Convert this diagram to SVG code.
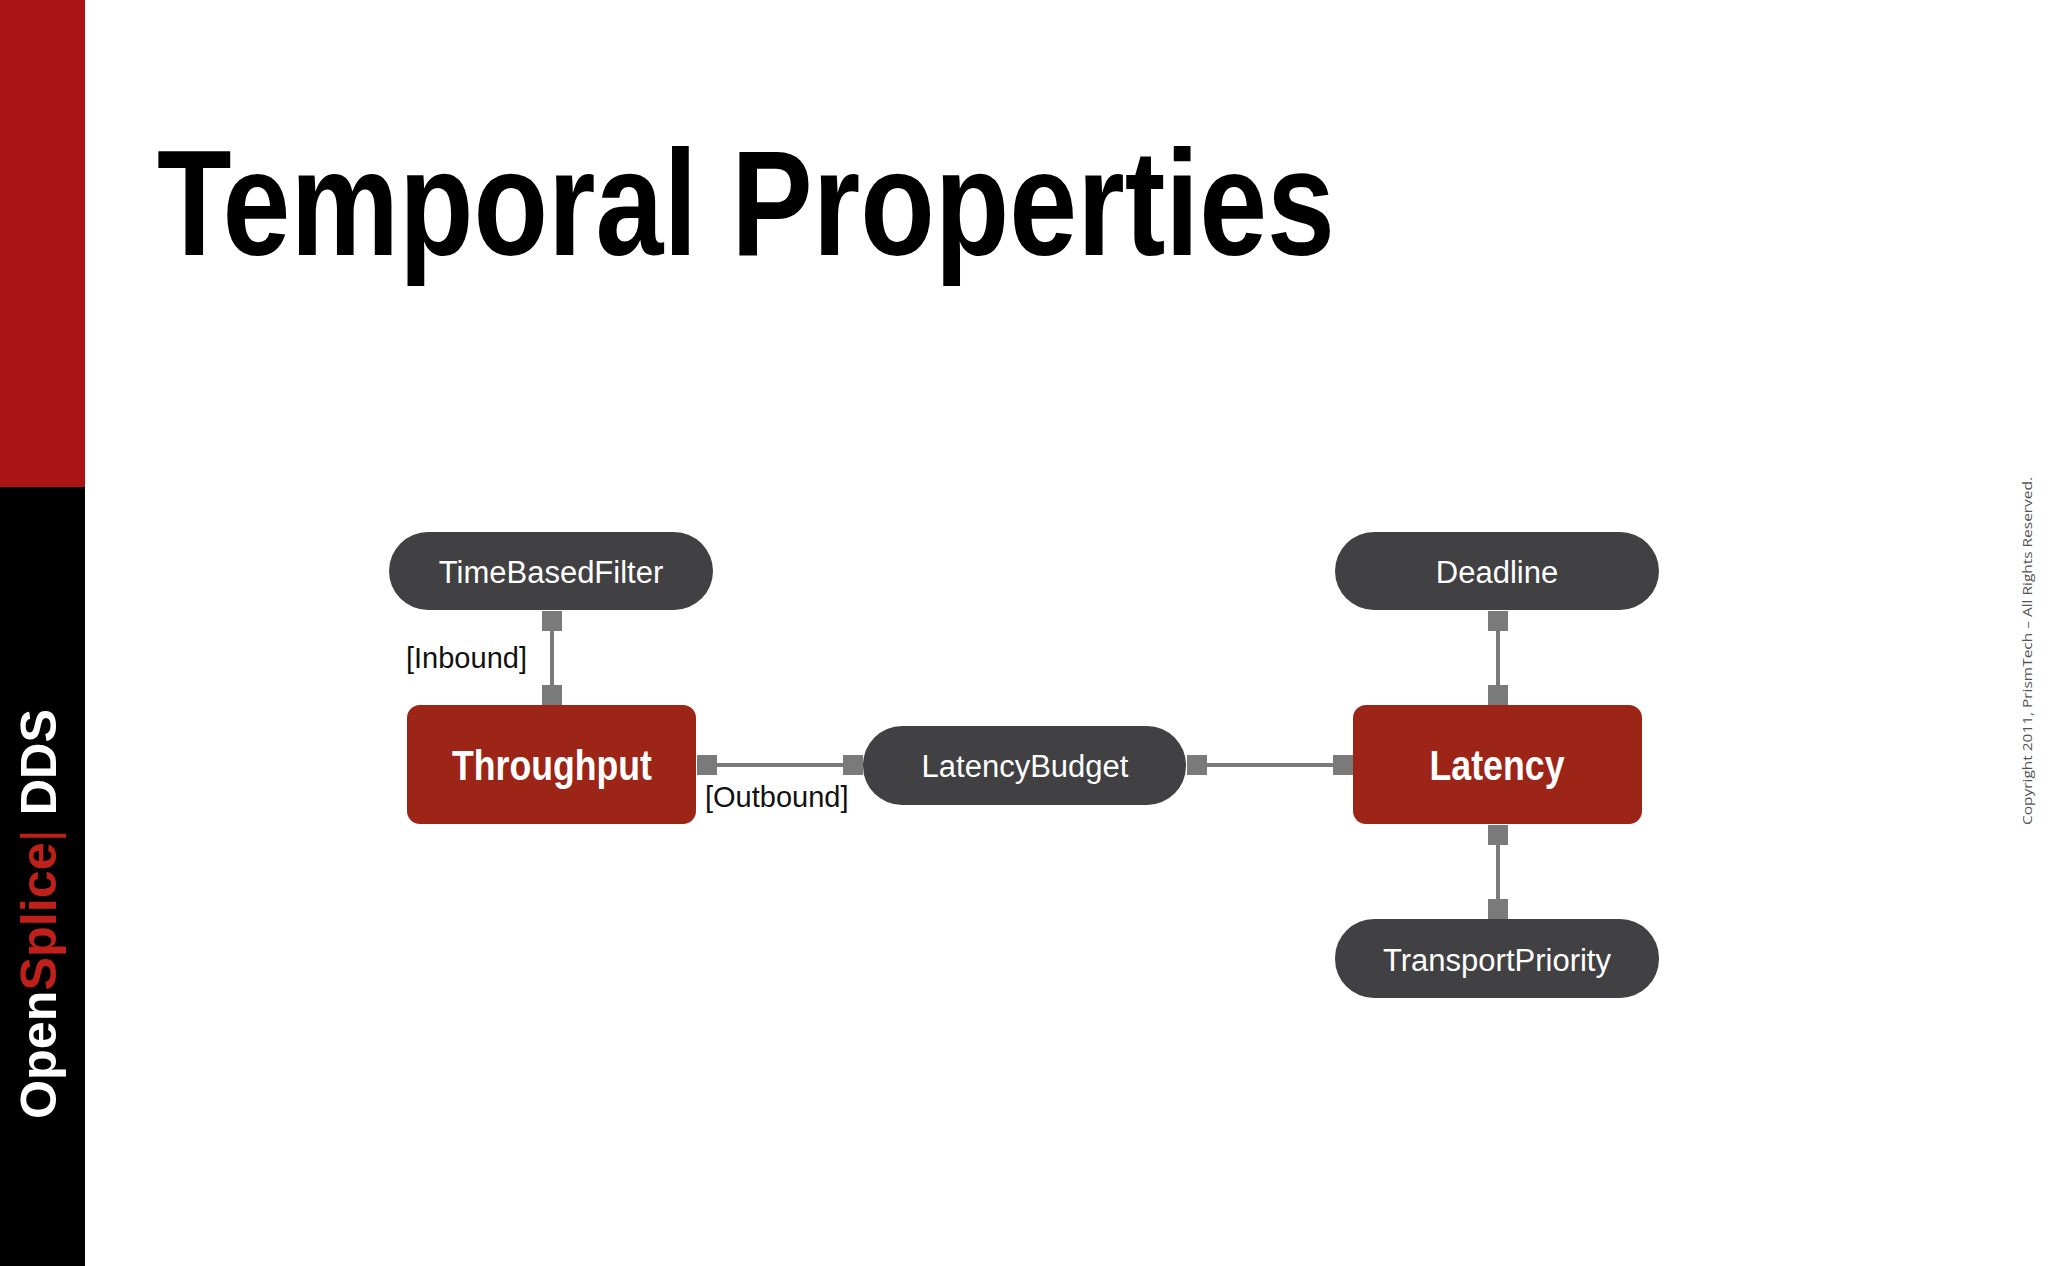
<svg xmlns="http://www.w3.org/2000/svg" width="2048" height="1266" viewBox="0 0 2048 1266">
<style>
.pill{fill:#414042}
.box{fill:#9c2517}
.nt{font-family:"Liberation Sans",Arial,sans-serif;font-size:31px;fill:#fff;text-anchor:middle}
.bt{font-family:"Liberation Sans",Arial,sans-serif;font-size:42px;font-weight:bold;fill:#fff;text-anchor:middle}
.lbl{font-family:"Liberation Sans",Arial,sans-serif;font-size:29px;fill:#111}
.ln{stroke:#7a7a7a;stroke-width:4}
.sq{fill:#7a7a7a}
</style>
<rect width="2048" height="1266" fill="#fff"/>
<rect x="0" y="0" width="85" height="487" fill="#ab1414"/>
<rect x="0" y="487" width="85" height="779" fill="#000"/>
<text transform="translate(56,1119) rotate(-90)" font-family="Liberation Sans,Arial,sans-serif" font-weight="bold" font-size="50" textLength="410" lengthAdjust="spacingAndGlyphs"><tspan fill="#fff">Open</tspan><tspan fill="#c0201a">Splice</tspan><tspan fill="#c0201a" font-weight="normal">|</tspan><tspan fill="#fff"> DDS</tspan></text>
<text x="157" y="255" font-family="Liberation Sans,Arial,sans-serif" font-weight="bold" font-size="150" textLength="1178" lengthAdjust="spacingAndGlyphs" fill="#000">Temporal Properties</text>
<text transform="translate(2032,825) rotate(-90)" font-family="Open Sans,sans-serif" font-size="13" fill="#555" textLength="348" lengthAdjust="spacingAndGlyphs">Copyright 2011, PrismTech –  All Rights Reserved.</text>
<g id="connectors">
<line class="ln" x1="552" y1="620" x2="552" y2="695"/>
<rect class="sq" x="542" y="611" width="20" height="20"/>
<rect class="sq" x="542" y="685" width="20" height="20"/>
<line class="ln" x1="707" y1="765" x2="853" y2="765"/>
<rect class="sq" x="697" y="755" width="20" height="20"/>
<rect class="sq" x="843" y="755" width="20" height="20"/>
<line class="ln" x1="1197" y1="765" x2="1343" y2="765"/>
<rect class="sq" x="1187" y="755" width="20" height="20"/>
<rect class="sq" x="1333" y="755" width="20" height="20"/>
<line class="ln" x1="1498" y1="620" x2="1498" y2="695"/>
<rect class="sq" x="1488" y="611" width="20" height="20"/>
<rect class="sq" x="1488" y="685" width="20" height="20"/>
<line class="ln" x1="1498" y1="835" x2="1498" y2="909"/>
<rect class="sq" x="1488" y="825" width="20" height="20"/>
<rect class="sq" x="1488" y="899" width="20" height="20"/>
<text class="lbl" x="406" y="668">[Inbound]</text>
<text class="lbl" x="705" y="807">[Outbound]</text>
</g>
<g id="timebasedfilter"><rect class="pill" x="389" y="532" width="324" height="78" rx="39"/><text class="nt" x="551" y="583">TimeBasedFilter</text></g>
<g id="deadline"><rect class="pill" x="1335" y="532" width="324" height="78" rx="39"/><text class="nt" x="1497" y="583">Deadline</text></g>
<g id="throughput"><rect class="box" x="407" y="705" width="289" height="119" rx="13"/><text class="bt" x="552" y="780" textLength="200" lengthAdjust="spacingAndGlyphs">Throughput</text></g>
<g id="latencybudget"><rect class="pill" x="863" y="726" width="323" height="79" rx="39"/><text class="nt" x="1025" y="777">LatencyBudget</text></g>
<g id="latency"><rect class="box" x="1353" y="705" width="289" height="119" rx="13"/><text class="bt" x="1497" y="780" textLength="135" lengthAdjust="spacingAndGlyphs">Latency</text></g>
<g id="transportpriority"><rect class="pill" x="1335" y="919" width="324" height="79" rx="39"/><text class="nt" x="1497" y="971">TransportPriority</text></g>
</svg>
